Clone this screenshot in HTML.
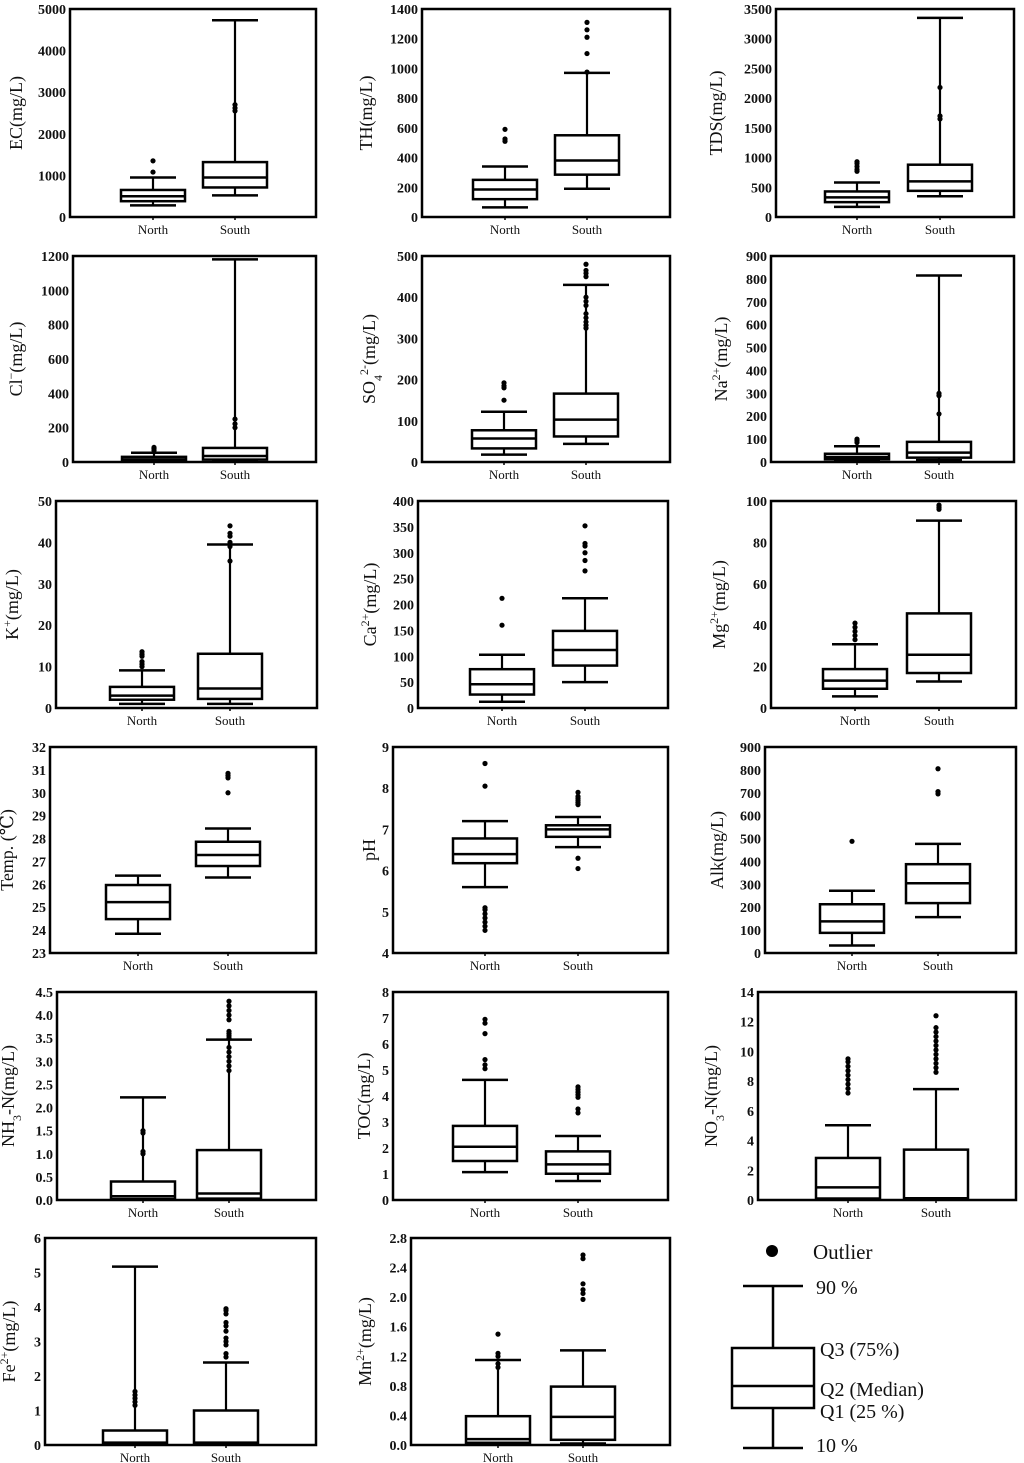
<!DOCTYPE html>
<html><head><meta charset="utf-8">
<style>
html,body{margin:0;padding:0;background:#fff;}
svg{display:block;}
text{font-family:"Liberation Serif","DejaVu Serif",serif;fill:#111;}
</style></head>
<body>
<svg id="fig" width="1024" height="1463" viewBox="0 0 1024 1463" xmlns="http://www.w3.org/2000/svg">
<g id="legend">
  <circle cx="772" cy="1251" r="6" fill="#000"/>
  <text x="813" y="1259" font-size="21">Outlier</text>
  <line x1="773" y1="1286" x2="773" y2="1448" stroke="#000" stroke-width="2.5"/>
  <line x1="743" y1="1286" x2="803" y2="1286" stroke="#000" stroke-width="2.5"/>
  <line x1="743" y1="1448" x2="803" y2="1448" stroke="#000" stroke-width="2.5"/>
  <rect x="732" y="1348" width="82" height="60" fill="#fff" stroke="#000" stroke-width="2.5"/>
  <line x1="732" y1="1386" x2="814" y2="1386" stroke="#000" stroke-width="2.5"/>
  <text x="816" y="1294" font-size="20">90 %</text>
  <text x="820" y="1356" font-size="20">Q3 (75%)</text>
  <text x="820" y="1396" font-size="20">Q2 (Median)</text>
  <text x="820" y="1418" font-size="20">Q1 (25 %)</text>
  <text x="816" y="1452" font-size="20">10 %</text>
</g>
</svg>
<script>
const categories = ["North", "South"];

// stats per category: [p10, q1, median, q3, p90]
const EC_stats = [[280, 380, 500, 650, 950], [520, 710, 950, 1320, 4730]];
const EC_out = [[1080, 1350], [2550, 2620, 2700]];
const EC_ticks = [0, 1000, 2000, 3000, 4000, 5000];

const TH_stats = [[65, 120, 185, 250, 340], [190, 285, 380, 550, 970]];
const TH_out = [[510, 525, 590], [975, 1100, 1210, 1260, 1310]];
const TH_ticks = [0, 200, 400, 600, 800, 1000, 1200, 1400];

const TDS_stats = [[170, 250, 330, 430, 580], [350, 440, 600, 880, 3350]];
const TDS_out = [[770, 800, 850, 900, 930], [1650, 1700, 2180]];
const TDS_ticks = [0, 500, 1000, 1500, 2000, 2500, 3000, 3500];

const Cl_stats = [[2, 5, 15, 30, 54], [4, 14, 35, 82, 1180]];
const Cl_out = [[68, 78, 85], [200, 222, 250]];
const Cl_ticks = [0, 200, 400, 600, 800, 1000, 1200];

const SO4_stats = [[18, 33, 57, 77, 122], [44, 62, 103, 166, 430]];
const SO4_out = [[150, 180, 185, 192], [325, 332, 340, 350, 360, 380, 390, 400, 450, 458, 465, 480]];
const SO4_ticks = [0, 100, 200, 300, 400, 500];

const Na_stats = [[5, 12, 22, 36, 69], [8, 19, 41, 88, 815]];
const Na_out = [[85, 93, 100], [210, 290, 300]];
const Na_ticks = [0, 100, 200, 300, 400, 500, 600, 700, 800, 900];

const K_stats = [[1, 2, 3, 5.1, 9.1], [1, 2.2, 4.7, 13.1, 39.5]];
const K_out = [[10, 10.6, 11.2, 12.5, 13, 13.6], [35.5, 39, 40, 41.5, 42.2, 44]];
const K_ticks = [0, 10, 20, 30, 40, 50];

const Ca_stats = [[12, 26, 46, 75, 103], [50, 82, 112, 149, 212]];
const Ca_out = [[160, 212], [265, 285, 300, 313, 318, 352]];
const Ca_ticks = [0, 50, 100, 150, 200, 250, 300, 350, 400];

const Mg_stats = [[5.6, 9.3, 13.2, 18.8, 30.8], [12.8, 16.9, 25.7, 45.7, 90.5]];
const Mg_out = [[33, 35, 37, 39, 41], [96, 97, 98]];
const Mg_ticks = [0, 20, 40, 60, 80, 100];

const Temp_stats = [[23.84, 24.48, 25.22, 25.97, 26.38], [26.3, 26.8, 27.28, 27.86, 28.44]];
const Temp_out = [[], [30.0, 30.65, 30.75, 30.85]];
const Temp_ticks = [23, 24, 25, 26, 27, 28, 29, 30, 31, 32];

const pH_stats = [[5.6, 6.18, 6.4, 6.78, 7.2], [6.57, 6.82, 7.0, 7.1, 7.3]];
const pH_out = [[4.55, 4.65, 4.75, 4.85, 4.95, 5.05, 5.1, 8.05, 8.6], [6.05, 6.3, 7.6, 7.65, 7.7, 7.75, 7.8, 7.9]];
const pH_ticks = [4, 5, 6, 7, 8, 9];

const Alk_stats = [[33, 88, 138, 213, 272], [157, 218, 305, 388, 477]];
const Alk_out = [[488], [695, 705, 805]];
const Alk_ticks = [0, 100, 200, 300, 400, 500, 600, 700, 800, 900];

const NH3_stats = [[0.01, 0.02, 0.08, 0.4, 2.22], [0.01, 0.03, 0.14, 1.08, 3.47]];
const NH3_out = [[1.0, 1.05, 1.45, 1.5], [2.8, 2.9, 3.0, 3.1, 3.2, 3.3, 3.5, 3.55, 3.6, 3.65, 3.9, 4.0, 4.1, 4.2, 4.3]];
const NH3_ticks = [0, 0.5, 1.0, 1.5, 2.0, 2.5, 3.0, 3.5, 4.0, 4.5];

const TOC_stats = [[1.07, 1.5, 2.05, 2.85, 4.62], [0.73, 1.01, 1.37, 1.87, 2.46]];
const TOC_out = [[5.05, 5.2, 5.4, 6.4, 6.8, 6.95], [3.35, 3.5, 3.95, 4.05, 4.15, 4.25, 4.35]];
const TOC_ticks = [0, 1, 2, 3, 4, 5, 6, 7, 8];

const NO3_stats = [[0.02, 0.1, 0.85, 2.83, 5.03], [0.02, 0.05, 0.12, 3.39, 7.46]];
const NO3_out = [[7.2, 7.5, 7.8, 8.1, 8.4, 8.7, 9.0, 9.3, 9.5], [8.6, 8.9, 9.2, 9.5, 9.8, 10.1, 10.4, 10.7, 11.0, 11.3, 11.6, 12.4]];
const NO3_ticks = [0, 2, 4, 6, 8, 10, 12, 14];

const Fe_stats = [[0.01, 0.02, 0.07, 0.42, 5.17], [0.01, 0.03, 0.07, 1.0, 2.39]];
const Fe_out = [[1.15, 1.25, 1.35, 1.45, 1.55], [2.55, 2.65, 2.9, 3.0, 3.1, 3.3, 3.45, 3.55, 3.8, 3.9, 3.95]];
const Fe_ticks = [0, 1, 2, 3, 4, 5, 6];

const Mn_stats = [[0.01, 0.03, 0.08, 0.39, 1.15], [0.02, 0.07, 0.38, 0.79, 1.28]];
const Mn_out = [[1.05, 1.1, 1.2, 1.24, 1.5], [1.97, 2.05, 2.1, 2.18, 2.52, 2.57]];
const Mn_ticks = [0.0, 0.4, 0.8, 1.2, 1.6, 2.0, 2.4, 2.8];

// layout (geometry only)
const panels = [
 {id:"ec", title:[["EC(mg/L)"]], stats:EC_stats, out:EC_out, ticks:EC_ticks, dec:0, L:70, R:316, T:9, B:217, cx:[153,235], tx:17},
 {id:"th", title:[["TH(mg/L)"]], stats:TH_stats, out:TH_out, ticks:TH_ticks, dec:0, L:422, R:670, T:9, B:217, cx:[505,587], tx:367},
 {id:"tds", title:[["TDS(mg/L)"]], stats:TDS_stats, out:TDS_out, ticks:TDS_ticks, dec:0, L:776, R:1014, T:9, B:217, cx:[857,940], tx:717},
 {id:"cl", title:[["Cl"],["−","sup"],["(mg/L)"]], stats:Cl_stats, out:Cl_out, ticks:Cl_ticks, dec:0, L:73, R:316, T:256, B:462, cx:[154,235], tx:17},
 {id:"so4", title:[["SO"],["4","sub"],["2-","sup"],["(mg/L)"]], stats:SO4_stats, out:SO4_out, ticks:SO4_ticks, dec:0, L:422, R:670, T:256, B:462, cx:[504,586], tx:370},
 {id:"na", title:[["Na"],["2+","sup"],["(mg/L)"]], stats:Na_stats, out:Na_out, ticks:Na_ticks, dec:0, L:771, R:1014, T:256, B:462, cx:[857,939], tx:722},
 {id:"k", title:[["K"],["+","sup"],["(mg/L)"]], stats:K_stats, out:K_out, ticks:K_ticks, dec:0, L:56, R:317, T:501, B:708, cx:[142,230], tx:13},
 {id:"ca", title:[["Ca"],["2+","sup"],["(mg/L)"]], stats:Ca_stats, out:Ca_out, ticks:Ca_ticks, dec:0, L:418, R:668, T:501, B:708, cx:[502,585], tx:371},
 {id:"mg", title:[["Mg"],["2+","sup"],["(mg/L)"]], stats:Mg_stats, out:Mg_out, ticks:Mg_ticks, dec:0, L:771, R:1016, T:501, B:708, cx:[855,939], tx:720},
 {id:"temp", title:[["Temp. (℃)"]], stats:Temp_stats, out:Temp_out, ticks:Temp_ticks, dec:0, L:50, R:316, T:747, B:953, cx:[138,228], tx:8},
 {id:"ph", title:[["pH"]], stats:pH_stats, out:pH_out, ticks:pH_ticks, dec:0, L:393, R:668, T:747, B:953, cx:[485,578], tx:370},
 {id:"alk", title:[["Alk(mg/L)"]], stats:Alk_stats, out:Alk_out, ticks:Alk_ticks, dec:0, L:765, R:1016, T:747, B:953, cx:[852,938], tx:718},
 {id:"nh3", title:[["NH"],["3","sub"],["-N(mg/L)"]], stats:NH3_stats, out:NH3_out, ticks:NH3_ticks, dec:1, L:57, R:316, T:992, B:1200, cx:[143,229], tx:9},
 {id:"toc", title:[["TOC(mg/L)"]], stats:TOC_stats, out:TOC_out, ticks:TOC_ticks, dec:0, L:393, R:668, T:992, B:1200, cx:[485,578], tx:365},
 {id:"no3", title:[["NO"],["3","sub"],["-N(mg/L)"]], stats:NO3_stats, out:NO3_out, ticks:NO3_ticks, dec:0, L:758, R:1016, T:992, B:1200, cx:[848,936], tx:712},
 {id:"fe", title:[["Fe"],["2+","sup"],["(mg/L)"]], stats:Fe_stats, out:Fe_out, ticks:Fe_ticks, dec:0, L:45, R:316, T:1238, B:1445, cx:[135,226], tx:10},
 {id:"mn", title:[["Mn"],["2+","sup"],["(mg/L)"]], stats:Mn_stats, out:Mn_out, ticks:Mn_ticks, dec:1, L:411, R:670, T:1238, B:1445, cx:[498,583], tx:366}
];

const NS = "http://www.w3.org/2000/svg";
const svg = document.getElementById("fig");
function mk(tag, attrs, parent){
  const e = document.createElementNS(NS, tag);
  for (const k in attrs) e.setAttribute(k, attrs[k]);
  parent.appendChild(e);
  return e;
}

panels.forEach(p => {
  const g = mk("g", {}, svg);
  
  
  const lo = p.ticks[0], hi = p.ticks[p.ticks.length - 1];
  const y = v => p.B - (v - lo) / (hi - lo) * (p.B - p.T);

  p.ticks.forEach(t => {
    const tl = mk("text", {x: p.L - 4, y: y(t) + 5, "text-anchor": "end", "font-size": 14, "font-weight": "bold"}, g);
    
    
    tl.textContent = t.toFixed(p.dec);
  });

  const cy = (p.T + p.B) / 2;
  const tt = mk("text", {x: p.tx + 5, y: cy, "text-anchor": "middle", "font-size": 18, transform: "rotate(-90 " + (p.tx + 5) + " " + cy + ")"}, g);
  
  
  p.title.forEach(part => {
    const ts = mk("tspan", {}, tt);
    if (part[1] === "sup") { ts.setAttribute("baseline-shift", "super"); ts.setAttribute("font-size", 12); }
    if (part[1] === "sub") { ts.setAttribute("baseline-shift", "sub"); ts.setAttribute("font-size", 12); }
    ts.textContent = part[0];
  });

  categories.forEach((c, i) => {
    const s = p.stats[i], x = p.cx[i];
    const bg = mk("g", {stroke: "#000", fill: "none"}, g);
    
    
    mk("line", {x1: x, y1: y(s[0]), x2: x, y2: y(s[4]), "stroke-width": 2.2}, bg);
    mk("line", {x1: x - 23, y1: y(s[0]), x2: x + 23, y2: y(s[0]), "stroke-width": 2.5}, bg);
    mk("line", {x1: x - 23, y1: y(s[4]), x2: x + 23, y2: y(s[4]), "stroke-width": 2.5}, bg);
    mk("rect", {x: x - 32, y: y(s[3]), width: 64, height: Math.max(1, y(s[1]) - y(s[3])), fill: "#fff", "stroke-width": 2.5}, bg);
    mk("line", {x1: x - 32, y1: y(s[2]), x2: x + 32, y2: y(s[2]), "stroke-width": 2.5}, bg);
    p.out[i].forEach(v => {
      const d = mk("circle", {cx: x, cy: y(v), r: 2.6, fill: "#000", stroke: "none"}, g);
      
      
    });
    mk("line", {x1: x, y1: p.B, x2: x, y2: p.B + 3, stroke: "#000", "stroke-width": 1.5}, g);
    const cl = mk("text", {x: x, y: p.B + 17, "text-anchor": "middle", "font-size": 13}, g);
    
    
    cl.textContent = c;
  });

  const fr = mk("rect", {x: p.L, y: p.T, width: p.R - p.L, height: p.B - p.T, fill: "none", stroke: "#000", "stroke-width": 2.5}, g);
  
  
});
</script>
</body></html>
